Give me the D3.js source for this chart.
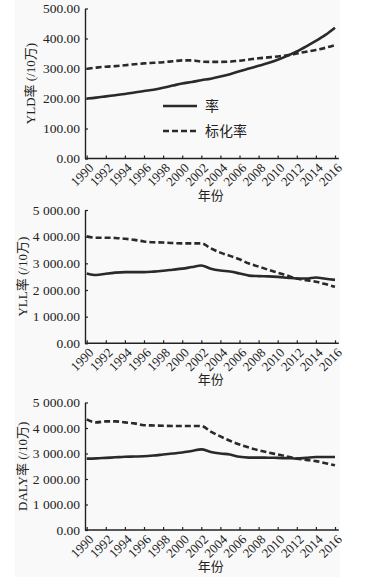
<!DOCTYPE html>
<meta charset="utf-8">
<style>
  body { margin: 0; background: #fff; }
  svg text { font-family: "Liberation Serif", "Times New Roman", "Noto Sans CJK SC", serif; fill: #222; }
</style>
<svg width="369" height="577"></svg>
<script src="https://cdn.jsdelivr.net/npm/d3@7"></script>
<script>
var years = d3.range(1990, 2017);
var yearTicks = d3.range(1990, 2017, 2);

// YLD rate per 100k
var yldRate = [200, 203, 207, 211, 215, 220, 225, 229, 236, 243, 250, 255, 261, 266, 273, 281, 291, 300, 309, 318, 329, 342, 357, 374, 392, 412, 436];
var yldStd  = [299, 303, 306, 308, 311, 314, 317, 319, 321, 324, 327, 327, 323, 322, 322, 323, 326, 330, 334, 337, 340, 344, 350, 356, 362, 369, 378];

// YLL rate per 100k
var yllRate = [2620, 2560, 2610, 2650, 2670, 2670, 2670, 2690, 2720, 2760, 2800, 2860, 2920, 2800, 2730, 2690, 2620, 2540, 2520, 2510, 2490, 2460, 2430, 2430, 2470, 2420, 2380];
var yllStd  = [4010, 3960, 3960, 3950, 3920, 3880, 3820, 3790, 3780, 3760, 3750, 3750, 3750, 3560, 3400, 3280, 3150, 2990, 2880, 2760, 2650, 2540, 2430, 2370, 2310, 2220, 2120];

// DALY rate per 100k
var dalyRate = [2800, 2810, 2830, 2850, 2870, 2880, 2890, 2920, 2960, 3000, 3040, 3100, 3160, 3060, 3000, 2960, 2870, 2840, 2840, 2835, 2830, 2820, 2800, 2830, 2860, 2860, 2860];
var dalyStd  = [4340, 4220, 4260, 4260, 4220, 4180, 4110, 4100, 4090, 4080, 4080, 4080, 4080, 3860, 3670, 3500, 3350, 3230, 3130, 3040, 2960, 2880, 2800, 2750, 2700, 2620, 2540];

var yldTicks = [0, 100, 200, 300, 400, 500];
var bigTicks = [0, 1000, 2000, 3000, 4000, 5000];
var legendLabels = ["率", "标化率"];

var svg = d3.select("svg");

svg.append("rect")
    .attr("x", 15).attr("y", 0)
    .attr("width", 325).attr("height", 577)
    .attr("fill", "#f9f9f9");

var fmtSmall = d3.format(".2f");
var fmtBig = d3.formatLocale({decimal: ".", thousands: " ", grouping: [3], currency: ["", ""]}).format(",.2f");

var x = d3.scaleLinear().domain([1990, 2016]).range([86.7, 335]);

function panel(opt) {
  var y = d3.scaleLinear().domain([0, opt.max]).range([opt.bottom, opt.top]);
  var g = svg.append("g");

  var line = d3.line()
      .x(function(d, i) { return x(years[i]); })
      .y(function(d) { return y(d); })
      .curve(d3.curveMonotoneX);

  // axes
  var ya = g.append("g")
      .attr("transform", "translate(85,0)")
      .call(d3.axisLeft(y).tickValues(opt.ticks).tickFormat(opt.fmt).tickSizeInner(-3).tickSizeOuter(0).tickPadding(5));
  ya.select(".domain").attr("stroke", "#222").attr("stroke-width", 1.4);
  ya.selectAll(".tick line").attr("stroke", "#222").attr("stroke-width", 1.2);
  ya.selectAll("text").style("font-size", "13.5px");

  var xa = g.append("g")
      .attr("transform", "translate(0," + opt.bottom + ")")
      .call(d3.axisBottom(x).tickValues(yearTicks).tickFormat(d3.format("d")).tickSizeInner(-3).tickSizeOuter(0));
  xa.select(".domain").remove();
  xa.append("line")
      .attr("x1", 85).attr("x2", x(2016.4))
      .attr("stroke", "#222").attr("stroke-width", 1.4);
  xa.selectAll(".tick line").attr("stroke", "#222").attr("stroke-width", 1.2);
  xa.selectAll("text")
      .attr("y", 0).attr("x", 0).attr("dy", "0.35em")
      .attr("text-anchor", "end")
      .attr("transform", "translate(4,7) rotate(-45)")
      .style("font-size", "13px");

  g.append("text")
      .attr("x", x(2003)).attr("y", opt.bottom + 41)
      .attr("text-anchor", "middle")
      .style("font-size", "13px")
      .text("年份");

  g.append("text")
      .attr("transform", "translate(" + opt.titleX + "," + ((opt.top + opt.bottom) / 2) + ") rotate(-90)")
      .attr("text-anchor", "middle")
      .attr("dy", "0.35em")
      .style("font-size", "13px")
      .text(opt.title);

  g.append("path")
      .datum(opt.std)
      .attr("fill", "none").attr("stroke", "#2a2a2a")
      .attr("stroke-width", 2.6).attr("stroke-dasharray", "6,3")
      .attr("d", line);

  g.append("path")
      .datum(opt.rate)
      .attr("fill", "none").attr("stroke", "#2a2a2a")
      .attr("stroke-width", 2.6)
      .attr("d", line);

  return y;
}

panel({title: "YLD率 (/10万)", rate: yldRate, std: yldStd, max: 500, ticks: yldTicks, fmt: fmtSmall, top: 8.5, bottom: 158.5, titleX: 30});
panel({title: "YLL率 (/10万)", rate: yllRate, std: yllStd, max: 5000, ticks: bigTicks, fmt: fmtBig, top: 210, bottom: 343.3, titleX: 22});
panel({title: "DALY率 (/10万)", rate: dalyRate, std: dalyStd, max: 5000, ticks: bigTicks, fmt: fmtBig, top: 402.5, bottom: 530, titleX: 22});

// legend in first panel
var leg = svg.append("g").attr("transform", "translate(163,106)");
legendLabels.forEach(function(lbl, i) {
  leg.append("line")
      .attr("x1", 0).attr("x2", 34).attr("y1", i * 25).attr("y2", i * 25)
      .attr("stroke", "#2a2a2a").attr("stroke-width", 2.6)
      .attr("stroke-dasharray", i ? "6,3" : null);
  leg.append("text")
      .attr("x", 42).attr("y", i * 25).attr("dy", "0.35em")
      .style("font-size", "14px")
      .text(lbl);
});
</script>
